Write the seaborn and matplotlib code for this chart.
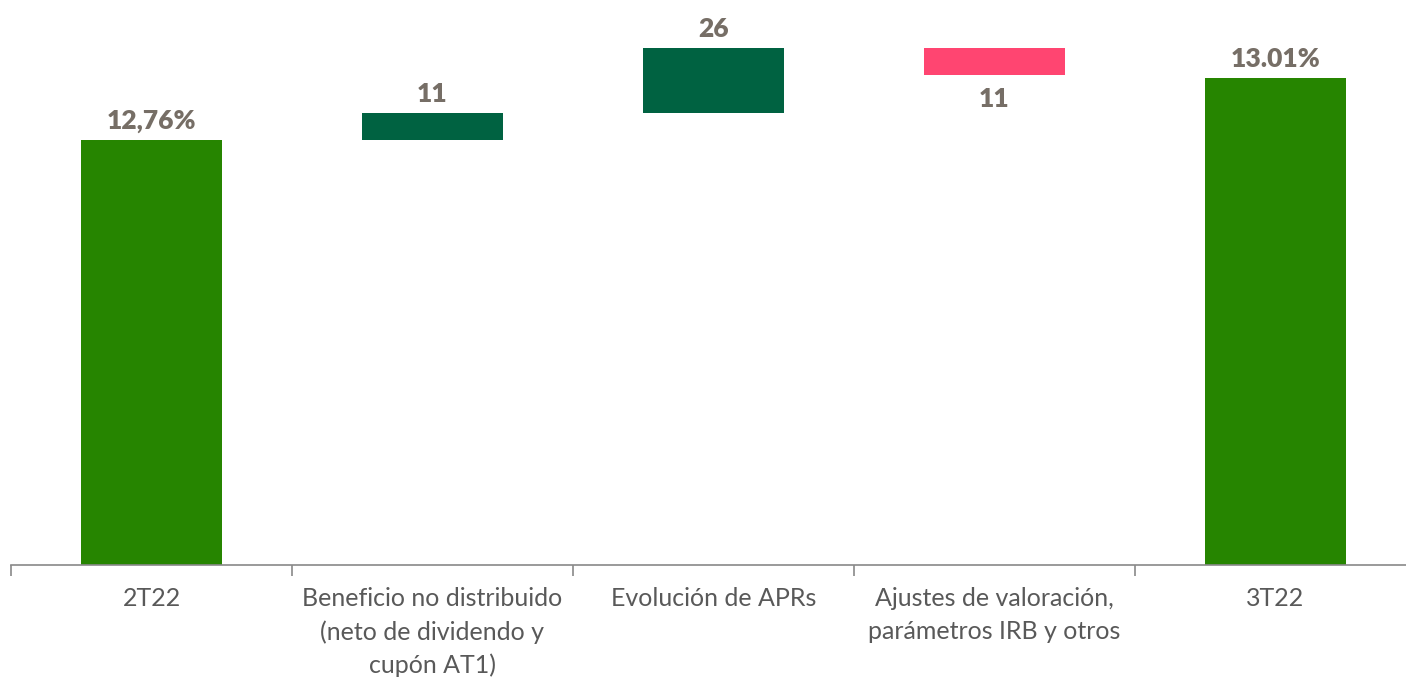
import pandas as pd
import seaborn as sns
import matplotlib.pyplot as plt

# ------------------------------- chart data ----------------------------------
categories = ["2T22", "Beneficio no distribuido\n(neto de dividendo y\ncupón AT1)",
              "Evolución de APRs", "Ajustes de valoración,\nparámetros IRB y otros", "3T22"]
start_value = 12.76
end_value = 13.01
steps = [0.11, 0.26, -0.11]
labels = ["12,76%", "11", "26", "11", "13.01%"]
colors = ["#268500", "#006241", "#006241", "#FF4571", "#268500"]

# build waterfall bases and heights
bases = [0]
heights = [start_value]
level = start_value
for s in steps:
    bases.append(min(level, level + s))
    heights.append(abs(s))
    level += s
bases.append(0)
heights.append(end_value)

df = pd.DataFrame({"cat": categories, "base": bases, "height": heights})

sns.set_style("white")
plt.rcParams["font.family"] = ["Lato", "DejaVu Sans"]

fig = plt.figure(figsize=(14.06, 6.81), dpi=100)
ax = fig.add_axes([11 / 1406, 116 / 681, 1405 / 1406, 565 / 681])

# one bar call so the bottom array lines up with the bars
sns.barplot(data=df, x="cat", y="height", bottom=df["base"].values, width=0.5,
            ax=ax, saturation=1, errorbar=None, color=colors[0])
for patch, c in zip(ax.patches, colors):
    patch.set_facecolor(c)
    patch.set_edgecolor("none")

ax.set_ylim(11.046, 13.324)
ax.set_xlim(-0.5, 4.5)

# value labels
for i, (b, h, lab) in enumerate(zip(bases, heights, labels)):
    if i == 3:
        ax.annotate(lab, (i, b), xytext=(0, -8), textcoords="offset points",
                    ha="center", va="top", fontsize=19, fontweight="heavy", color="#766E66")
    else:
        ax.annotate(lab, (i, b + h), xytext=(0, 5), textcoords="offset points",
                    ha="center", va="bottom", fontsize=19, fontweight="heavy", color="#766E66")

# axes styling
for side in ["top", "right", "left"]:
    ax.spines[side].set_visible(False)
ax.spines["bottom"].set_color("#898989")
ax.spines["bottom"].set_linewidth(1.2)
ax.set_yticks([])
ax.set_xlabel("")
ax.set_ylabel("")
ax.set_xticks(range(5))
ax.set_xticklabels(categories, fontsize=18, color="#595959", linespacing=1.5)
ax.set_xticks([-0.5, 0.5, 1.5, 2.5, 3.5, 4.5], minor=True)
ax.tick_params(axis="x", which="major", bottom=False, length=0, pad=16)
ax.tick_params(axis="x", which="minor", bottom=True, length=8, color="#898989", width=1.2)

fig.savefig("out.png", dpi=100)
